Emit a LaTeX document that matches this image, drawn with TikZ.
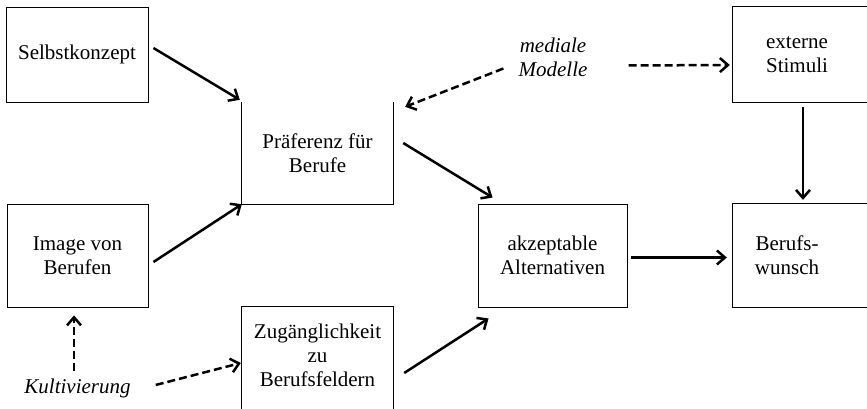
\documentclass[tikz,border=0pt]{standalone}
\usepackage{fontspec}
\setmainfont{Liberation Serif}
\usetikzlibrary{arrows.meta}

\begin{document}
\begin{tikzpicture}[x=1pt, y=-1pt,
        every node/.style={font=\fontsize{21}{24}\selectfont, align=center, inner sep=0pt},
        box/.style={draw, line width=0.9pt},
        medium/.style={font=\fontsize{21}{24}\selectfont\itshape},
        side/.style={line width=0.9pt},
        arr/.style={line width=2.5pt, -{Straight Barb[length=8pt,width=14pt]}},
        darr/.style={arr, dash pattern=on 8pt off 4pt}]

    % page area, the right boxes and the bottom box run out of it
    \useasboundingbox (0,0) rectangle (867,409);
    \clip (0,0) rectangle (867,409);

    % Boxes with a full border
    \node[box, minimum width=142pt, minimum height=95pt] (selbst) at (77,54.5) {Selbstkonzept};
    \node[box, minimum width=141pt, minimum height=103pt] (image) at (77.5,255.5) {Image von\\Berufen};
    \node[box, minimum width=149pt, minimum height=103pt] (akzept) at (552.5,255.5) {akzeptable\\Alternativen};

    % Boxes that are only partly drawn
    \node[minimum width=151pt, minimum height=102pt] (praef) at (317.5,153) {Präferenz für\\Berufe};
    \node[minimum width=151pt, minimum height=96pt] (zugang) at (317.5,355) {Zugänglichkeit\\zu\\Berufsfeldern};
    \node[minimum width=128pt, minimum height=95pt] (extern) at (797,54.5) {externe\\Stimuli};
    \node[minimum width=108pt, minimum height=103pt] (wunsch) at (787,255.5) {Berufs-\\wunsch};

    \draw[side] (praef.north west) -- (praef.south west) -- (praef.south east) -- (praef.north east);
    \draw[side] ([yshift=-20pt]zugang.south west) -- (zugang.north west) -- (zugang.north east) -- ([yshift=-20pt]zugang.south east);
    \draw[side] ([xshift=30pt]extern.north east) -- (extern.north west) -- (extern.south west) -- ([xshift=30pt]extern.south east);
    \draw[side] ([xshift=40pt]wunsch.north east) -- (wunsch.north west) -- (wunsch.south west) -- ([xshift=40pt]wunsch.south east);

    % Media influences (italic)
    \node[medium] (medial) at (553,57) {mediale\\Modelle};
    \node[medium, anchor=base] (kult) at (77.5,393) {Kultivierung};

    % Solid arrows
    \draw[arr] ([xshift=5pt,yshift=6.5pt]selbst.east) -- ([xshift=-2pt,yshift=2pt]praef.north west);
    \draw[arr] ([xshift=5pt,yshift=-6.5pt]image.east) -- (praef.south west);
    \draw[arr] ([xshift=10pt,yshift=10pt]praef.east) -- ([xshift=15pt,yshift=6pt]akzept.north west);
    \draw[arr] ([xshift=11pt,yshift=-18pt]zugang.east) -- ([xshift=11pt,yshift=-11pt]akzept.south west);
    \draw[arr] ([xshift=4pt,yshift=-2pt]akzept.east) -- ([xshift=-6pt,yshift=-2pt]wunsch.west);
    \draw[arr] ([xshift=6pt,yshift=-5pt]extern.south) -- ([xshift=16pt,yshift=4pt]wunsch.north);

    % Dashed arrows
    \draw[darr] ([xshift=-15pt,yshift=-11.5pt]medial.west) -- ([xshift=12pt,yshift=-5pt]praef.north east);
    \draw[darr] ([xshift=41pt,yshift=-8.5pt]medial.east) -- ([xshift=-3pt,yshift=-10.5pt]extern.west);
    \draw[darr] ([xshift=-3.5pt,yshift=7pt]kult.north) -- ([xshift=-3.5pt,yshift=-8pt]image.south);
    \draw[darr] ([xshift=25pt,yshift=3pt]kult.east) -- ([xshift=-1pt,yshift=-8pt]zugang.west);
\end{tikzpicture}
\end{document}
